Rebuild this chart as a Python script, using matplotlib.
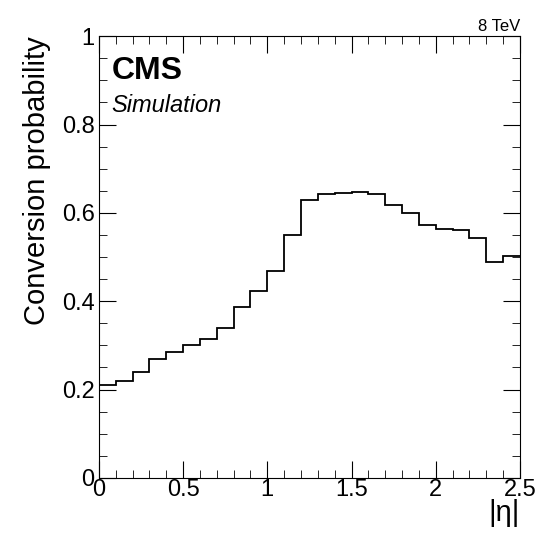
import matplotlib
matplotlib.use("Agg")
import matplotlib.pyplot as plt
import numpy as np
from matplotlib.ticker import MultipleLocator

plt.rcParams['font.family'] = ['Liberation Sans', 'DejaVu Sans']

edges = np.round(np.arange(0, 2.51, 0.1), 2)
values = [0.211, 0.2195, 0.240, 0.269, 0.286, 0.300, 0.314, 0.339, 0.386, 0.423,
          0.468, 0.550, 0.630, 0.643, 0.645, 0.647, 0.643, 0.617, 0.600, 0.573,
          0.563, 0.561, 0.542, 0.489, 0.503]

fig = plt.figure(figsize=(5.4, 5.4), dpi=100)
ax = fig.add_axes([0.183, 0.115, 0.78, 0.818])
ax.stairs(values, edges, color='black', linewidth=1.3, baseline=None)
ax.set_xlim(0, 2.5)
ax.set_ylim(0, 1)
ax.xaxis.set_minor_locator(MultipleLocator(0.1))
ax.yaxis.set_minor_locator(MultipleLocator(0.05))
ax.set_xticks([0, 0.5, 1, 1.5, 2, 2.5])
ax.set_xticklabels(['0', '0.5', '1', '1.5', '2', '2.5'])
ax.set_yticks([0, 0.2, 0.4, 0.6, 0.8, 1])
ax.set_yticklabels(['0', '0.2', '0.4', '0.6', '0.8', '1'])
ax.tick_params(which='both', direction='in', top=True, right=True, labelsize=17)
ax.tick_params(which='major', length=12)
ax.tick_params(which='minor', length=6)
ax.tick_params(axis='x', pad=1)
ax.tick_params(axis='y', pad=3)
ax.set_ylabel('Conversion probability', fontsize=21, loc='top', labelpad=8)
ax.set_xlabel('|η|', fontsize=21, loc='right', labelpad=-2)
ax.text(0.03, 0.955, 'CMS', transform=ax.transAxes, fontsize=23, fontweight='bold', va='top')
ax.text(0.03, 0.87, 'Simulation', transform=ax.transAxes, fontsize=17, style='italic', va='top')
ax.text(1.0, 1.005, '8 TeV', transform=ax.transAxes, fontsize=12, ha='right', va='bottom')
fig.savefig('out.png', dpi=100)
